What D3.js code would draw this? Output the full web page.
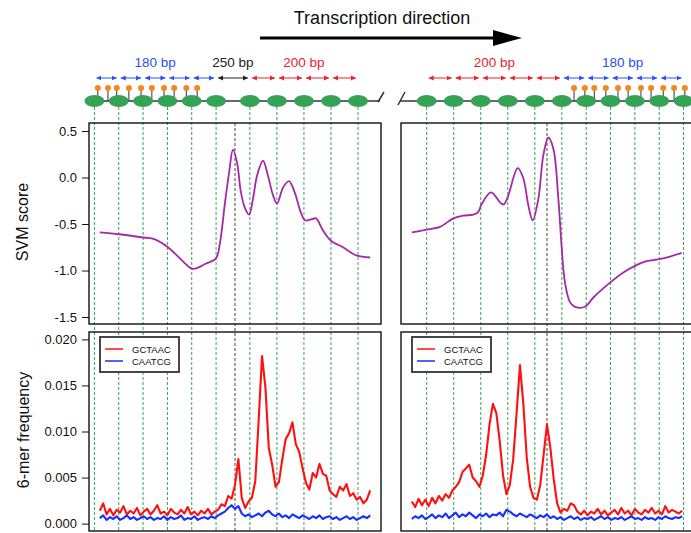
<!DOCTYPE html>
<html>
<head>
<meta charset="utf-8">
<script src="https://cdn.jsdelivr.net/npm/d3@7"></script>
<style>
body { margin: 0; background: #fff; }
text { font-family: "Liberation Sans", Arial, Helvetica, sans-serif; }
</style>
</head>
<body>
<div id="chart"></div>
<script>
// ---- data (bp relative to the TSS / TTS) ----
const svmTicks = [-1.5, -1.0, -0.5, 0.0, 0.5];
const freqTicks = [0.000, 0.005, 0.010, 0.015, 0.020];

const leftNucleosomes = [-1040, -860, -680, -500, -320, -140, 110, 310, 510, 710, 910];
const rightNucleosomes = [-890, -690, -490, -290, -90, 110, 290, 470, 650, 830, 1010];

// colour of the spacing arrow between consecutive nucleosomes
const leftSpacingColors = ["blue", "blue", "blue", "blue", "blue", "black", "red", "red", "red", "red"];
const rightSpacingColors = ["red", "red", "red", "red", "red", "blue", "blue", "blue", "blue", "blue"];
const leftSpacingLabels = [["180 bp", "blue", 0, 5], ["250 bp", "black", 5, 6], ["200 bp", "red", 6, 10]];
const rightSpacingLabels = [["200 bp", "red", 0, 5], ["180 bp", "blue", 5, 10]];

// orange lollipops (motif sites)
const leftSites = [-1015, -940, -875, -785, -695, -615, -525, -450, -360, -280];
const rightSites = [200, 280, 350, 435, 525, 600, 695, 770, 860, 940, 1020];

// SVM score curves
const leftSvmBp = [-1000, -858, -680, -592, -496, -407, -318, -274, -222, -141, -111, -74, -44, -15, 15, 44, 74, 104, 133, 163, 207, 244, 281, 311, 355, 399, 444, 481, 518, 562, 599, 651, 710, 799, 851, 902, 1000];
const leftSvm = [-0.59, -0.61, -0.645, -0.665, -0.75, -0.87, -0.98, -0.97, -0.93, -0.87, -0.70, -0.27, 0.05, 0.30, 0.16, -0.16, -0.33, -0.40, -0.23, 0.02, 0.18, 0.02, -0.19, -0.28, -0.11, -0.04, -0.17, -0.35, -0.46, -0.45, -0.44, -0.57, -0.68, -0.75, -0.80, -0.84, -0.86];
const rightSvmBp = [-1000, -890, -791, -693, -619, -545, -508, -488, -414, -323, -217, -175, -138, -106, -64, -27, 10, 47, 84, 109, 133, 170, 207, 281, 343, 466, 565, 651, 737, 823, 910, 996];
const rightSvm = [-0.59, -0.56, -0.53, -0.44, -0.41, -0.40, -0.37, -0.30, -0.16, -0.29, 0.10, -0.01, -0.30, -0.46, -0.23, 0.24, 0.43, 0.31, -0.23, -0.76, -1.13, -1.34, -1.39, -1.39, -1.29, -1.13, -1.02, -0.95, -0.90, -0.88, -0.85, -0.81];

// 6-mer frequency, sampled every 25 bp from -1000 to 1000
const freqBp = d3.range(-1000, 1001, 25);
const leftGCTAAC = [
  0.0014, 0.0022, 0.0010, 0.0016, 0.0009, 0.0015, 0.0012, 0.0019, 0.0010, 0.0014,
  0.0011, 0.0017, 0.0009, 0.0013, 0.0016, 0.0010, 0.0014, 0.0020, 0.0011, 0.0013,
  0.0009, 0.0016, 0.0012, 0.0010, 0.0015, 0.0011, 0.0018, 0.0010, 0.0013, 0.0009,
  0.0014, 0.0011, 0.0016, 0.0010, 0.0013,
  0.0015, 0.0021, 0.0019, 0.0030, 0.0027, 0.0042, 0.0070, 0.0028, 0.0017, 0.0024,
  0.0028, 0.0046, 0.0112, 0.0182, 0.0148, 0.0082, 0.0064, 0.0040, 0.0045, 0.0070,
  0.0092, 0.0098, 0.0110, 0.0086, 0.0078, 0.0060, 0.0044, 0.0037, 0.0055, 0.0050,
  0.0065, 0.0054, 0.0052, 0.0036, 0.0032, 0.0029, 0.0040, 0.0036, 0.0043, 0.0030,
  0.0033, 0.0026, 0.0029, 0.0022, 0.0026, 0.0036];
const leftCAATCG = [
  0.0006, 0.0009, 0.0004, 0.0007, 0.0005, 0.0008, 0.0004, 0.0006, 0.0009, 0.0005,
  0.0007, 0.0004, 0.0006, 0.0008, 0.0005, 0.0007, 0.0004, 0.0006, 0.0005, 0.0008,
  0.0004, 0.0007, 0.0005, 0.0006, 0.0009, 0.0004, 0.0006, 0.0005, 0.0008, 0.0004,
  0.0006, 0.0007, 0.0005, 0.0008, 0.0006,
  0.0009, 0.0011, 0.0013, 0.0017, 0.0020, 0.0016, 0.0019, 0.0011, 0.0008, 0.0010,
  0.0007, 0.0009, 0.0011, 0.0008, 0.0012, 0.0014, 0.0010, 0.0008, 0.0011, 0.0007,
  0.0009, 0.0006, 0.0010, 0.0008, 0.0006, 0.0009, 0.0007, 0.0005, 0.0008, 0.0006,
  0.0009, 0.0005, 0.0007, 0.0008, 0.0005, 0.0007, 0.0004, 0.0006, 0.0008, 0.0005,
  0.0007, 0.0004, 0.0006, 0.0008, 0.0006, 0.0009];
const rightGCTAAC = [
  0.0024, 0.0018, 0.0027, 0.0020, 0.0026, 0.0019, 0.0028, 0.0022, 0.0030, 0.0025,
  0.0032, 0.0028, 0.0036, 0.0040, 0.0045, 0.0056, 0.0060, 0.0064, 0.0050, 0.0046,
  0.0040, 0.0052, 0.0075, 0.0108, 0.0130, 0.0120, 0.0090, 0.0052, 0.0032, 0.0042,
  0.0070, 0.0120, 0.0172, 0.0130, 0.0072, 0.0040, 0.0028, 0.0026, 0.0042, 0.0075,
  0.0108, 0.0082, 0.0048, 0.0022, 0.0012, 0.0016, 0.0014, 0.0022, 0.0020, 0.0013,
  0.0010, 0.0014, 0.0009, 0.0013, 0.0011, 0.0016, 0.0010, 0.0014, 0.0009, 0.0012,
  0.0015, 0.0010, 0.0017, 0.0011, 0.0014, 0.0009, 0.0016, 0.0012, 0.0010, 0.0015,
  0.0012, 0.0017, 0.0011, 0.0014, 0.0010, 0.0019, 0.0012, 0.0015, 0.0013, 0.0011,
  0.0014];
const rightCAATCG = [
  0.0005, 0.0008, 0.0006, 0.0009, 0.0005, 0.0007, 0.0010, 0.0006, 0.0009, 0.0007,
  0.0011, 0.0006, 0.0009, 0.0012, 0.0007, 0.0010, 0.0008, 0.0012, 0.0009, 0.0006,
  0.0010, 0.0008, 0.0011, 0.0007, 0.0010, 0.0009, 0.0012, 0.0008, 0.0015, 0.0013,
  0.0010, 0.0008, 0.0011, 0.0009, 0.0007, 0.0010, 0.0008, 0.0006, 0.0009, 0.0007,
  0.0010, 0.0006, 0.0008, 0.0005, 0.0007, 0.0004, 0.0006, 0.0008, 0.0005, 0.0007,
  0.0004, 0.0006, 0.0005, 0.0007, 0.0004, 0.0006, 0.0008, 0.0005, 0.0007, 0.0004,
  0.0006, 0.0005, 0.0007, 0.0004, 0.0006, 0.0008, 0.0005, 0.0006, 0.0004, 0.0007,
  0.0005, 0.0006, 0.0004, 0.0007, 0.0005, 0.0008, 0.0006, 0.0005, 0.0007, 0.0006,
  0.0008];

// ---- canvas ----
const width = 691;
const height = 533;

const svg = d3.select("#chart")
    .append("svg")
    .attr("width", width)
    .attr("height", height);

const colors = { blue: "#2b50f5", red: "#e8252f", black: "#222", green: "#34a356", orange: "#f5871f", purple: "#a528a8" };

const ySvm = d3.scaleLinear().domain([-1.575, 0.586]).range([324, 123]);
const yFreq = d3.scaleLinear().domain([-0.0008, 0.0208]).range([531, 332]);

const defs = svg.append("defs");
["blue", "red", "black"].forEach(c => {
    defs.append("marker")
        .attr("id", "arr-" + c)
        .attr("viewBox", "0 -3 5 6")
        .attr("refX", 5)
        .attr("markerWidth", 5)
        .attr("markerHeight", 6)
        .attr("markerUnits", "userSpaceOnUse")
        .attr("orient", "auto-start-reverse")
        .append("path")
        .attr("d", "M0,-2.5L5,0L0,2.5Z")
        .attr("fill", colors[c]);
});

const sides = [
    { range: [89, 381], line: [87, 380], nuc: leftNucleosomes, sites: leftSites, spacing: leftSpacingColors,
      labels: leftSpacingLabels, svmBp: leftSvmBp, svm: leftSvm, gc: leftGCTAAC, ca: leftCAATCG, axis: true },
    { range: [401, 693], line: [400, 700], nuc: rightNucleosomes, sites: rightSites, spacing: rightSpacingColors,
      labels: rightSpacingLabels, svmBp: rightSvmBp, svm: rightSvm, gc: rightGCTAAC, ca: rightCAATCG, axis: false }
];

sides.forEach((side, i) => {
    const x = d3.scaleLinear().domain([-1080, 1080]).range(side.range);
    const g = svg.append("g");

    defs.append("clipPath").attr("id", "clip" + i)
        .append("rect")
        .attr("x", side.range[0]).attr("y", 123)
        .attr("width", side.range[1] - side.range[0]).attr("height", 408);

    // nucleosome dashed guides
    g.selectAll(".guide")
        .data(side.nuc)
        .join("line")
        .attr("x1", d => x(d)).attr("x2", d => x(d))
        .attr("y1", 107).attr("y2", 531)
        .attr("stroke", colors.green)
        .attr("stroke-width", 1)
        .attr("stroke-dasharray", "3,2");

    // TSS / TTS line
    g.append("line")
        .attr("x1", x(0)).attr("x2", x(0))
        .attr("y1", 123).attr("y2", 531)
        .attr("stroke", "#444")
        .attr("stroke-dasharray", "3,2");

    // header: DNA line, lollipops, nucleosomes
    g.append("line")
        .attr("x1", side.line[0]).attr("x2", side.line[1])
        .attr("y1", 101).attr("y2", 101)
        .attr("stroke", "#333").attr("stroke-width", 1.3);

    g.selectAll(".stem")
        .data(side.sites)
        .join("line")
        .attr("x1", d => x(d)).attr("x2", d => x(d))
        .attr("y1", 101).attr("y2", 88)
        .attr("stroke", "#333").attr("stroke-width", 1);

    g.selectAll(".nuc")
        .data(side.nuc)
        .join("ellipse")
        .attr("cx", d => x(d)).attr("cy", 101)
        .attr("rx", 10).attr("ry", 6)
        .attr("fill", colors.green);

    g.selectAll(".site")
        .data(side.sites)
        .join("circle")
        .attr("cx", d => x(d)).attr("cy", 88)
        .attr("r", 3)
        .attr("fill", colors.orange);

    // spacing arrows
    d3.pairs(side.nuc).forEach((p, k) => {
        const c = side.spacing[k];
        g.append("line")
            .attr("x1", x(p[0]) + 2).attr("x2", x(p[1]) - 2)
            .attr("y1", 78).attr("y2", 78)
            .attr("stroke", colors[c]).attr("stroke-width", 1)
            .attr("marker-start", `url(#arr-${c})`)
            .attr("marker-end", `url(#arr-${c})`);
    });

    side.labels.forEach(([txt, c, a, b]) => {
        g.append("text")
            .attr("x", (x(side.nuc[a]) + x(side.nuc[b])) / 2)
            .attr("y", 67)
            .attr("text-anchor", "middle")
            .attr("font-size", "13.5px")
            .attr("fill", colors[c])
            .text(txt);
    });

    // SVM curve
    const svmLine = d3.line()
        .x((d, k) => x(side.svmBp[k]))
        .y(d => ySvm(d))
        .curve(d3.curveCatmullRom.alpha(0.5));

    g.append("path")
        .datum(side.svm)
        .attr("d", svmLine)
        .attr("fill", "none")
        .attr("stroke", colors.purple)
        .attr("stroke-width", 1.8)
        .attr("clip-path", `url(#clip${i})`);

    // 6-mer lines
    const freqLine = d3.line()
        .x((d, k) => x(freqBp[k]))
        .y(d => yFreq(d));

    [["gc", "#ff1010"], ["ca", "#1530ff"]].forEach(([key, col]) => {
        g.append("path")
            .datum(side[key])
            .attr("d", freqLine)
            .attr("fill", "none")
            .attr("stroke", col)
            .attr("stroke-width", 2.1)
            .attr("stroke-linejoin", "round");
    });

    // legend
    const lg = g.append("g").attr("transform", `translate(${side.range[0] + 11}, 337)`);
    lg.append("rect")
        .attr("width", 79).attr("height", 35)
        .attr("fill", "#fff")
        .attr("stroke", "#333").attr("stroke-width", 1.8);
    [["GCTAAC", "#ff1010"], ["CAATCG", "#1530ff"]].forEach(([name, col], k) => {
        lg.append("line")
            .attr("x1", 5).attr("x2", 23)
            .attr("y1", 12 + k * 12).attr("y2", 12 + k * 12)
            .attr("stroke", col).attr("stroke-width", 1.5);
        lg.append("text")
            .attr("x", 32).attr("y", 15.5 + k * 12)
            .attr("font-size", "9.5px")
            .attr("fill", "#111")
            .text(name);
    });

    // panel boxes
    [[123, 324], [332, 531]].forEach(([t, b]) => {
        g.append("rect")
            .attr("x", side.range[0]).attr("y", t)
            .attr("width", side.range[1] - side.range[0]).attr("height", b - t)
            .attr("fill", "none")
            .attr("stroke", "#111").attr("stroke-width", 1.4);
    });

    if (side.axis) {
        const ax1 = svg.append("g")
            .attr("transform", `translate(${side.range[0]},0)`)
            .call(d3.axisLeft(ySvm).tickValues(svmTicks).tickFormat(d => d.toFixed(1)).tickSize(7).tickPadding(5));
        const ax2 = svg.append("g")
            .attr("transform", `translate(${side.range[0]},0)`)
            .call(d3.axisLeft(yFreq).tickValues(freqTicks).tickFormat(d => d.toFixed(3)).tickSize(7).tickPadding(5));
        [ax1, ax2].forEach(ax => {
            ax.select(".domain").remove();
            ax.selectAll("line").attr("stroke", "#111");
            ax.selectAll("text")
                .attr("font-size", "13px")
                .attr("fill", "#111")
                .attr("font-family", "Liberation Sans, Arial, sans-serif");
        });
    }
});

// break marks on the DNA line
[[378, 102, 384, 92], [398, 105, 405, 92]].forEach(s => {
    svg.append("line")
        .attr("x1", s[0]).attr("y1", s[1]).attr("x2", s[2]).attr("y2", s[3])
        .attr("stroke", "#333").attr("stroke-width", 1.5);
});

// axis titles
svg.append("text")
    .attr("transform", "translate(28,222) rotate(-90)")
    .attr("text-anchor", "middle")
    .attr("font-size", "16px")
    .attr("fill", "#111")
    .text("SVM score");

svg.append("text")
    .attr("transform", "translate(29,430) rotate(-90)")
    .attr("text-anchor", "middle")
    .attr("font-size", "16px")
    .attr("fill", "#111")
    .text("6-mer frequency");

// title + direction arrow
svg.append("text")
    .attr("x", 382)
    .attr("y", 24)
    .attr("text-anchor", "middle")
    .attr("font-size", "18px")
    .attr("fill", "#111")
    .text("Transcription direction");

svg.append("line")
    .attr("x1", 260).attr("x2", 496)
    .attr("y1", 38).attr("y2", 38)
    .attr("stroke", "#000").attr("stroke-width", 3);

svg.append("path")
    .attr("d", "M493,30L522,38L493,46Z")
    .attr("fill", "#000");
</script>
</body>
</html>
